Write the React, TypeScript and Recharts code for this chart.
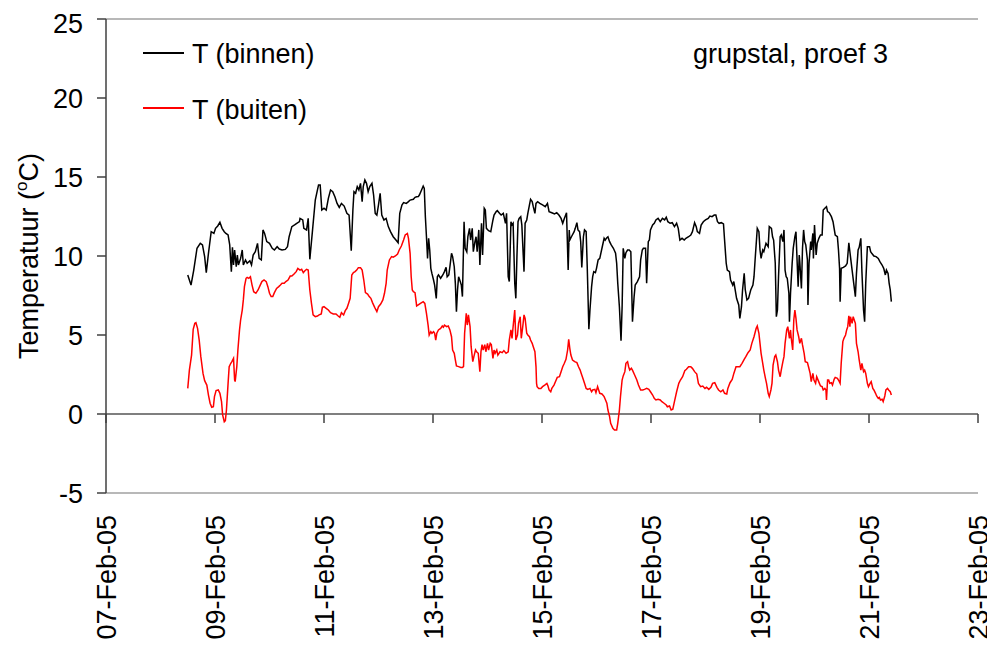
import React from 'react';
import { LineChart, Line, XAxis, YAxis, ReferenceLine } from 'recharts';

// time in days after 07-Feb-05 00:00, temperature in °C
const binnen: [number, number][] = [
  [1.50,8.80],[1.56,8.16],[1.61,9.11],[1.67,10.49],[1.73,10.80],[1.77,10.70],[1.81,9.96],[1.84,8.95],[1.88,10.17],[1.93,11.54],[1.98,11.43],[2.01,11.75],[2.05,11.90],[2.09,12.13],[2.13,11.75],[2.17,11.54],[2.20,11.43],[2.24,11.33],[2.27,10.70],[2.30,9.00],[2.32,10.55],[2.34,9.43],[2.36,10.38],[2.39,9.32],[2.41,10.06],[2.43,9.43],[2.47,9.85],[2.50,10.38],[2.52,9.43],[2.56,9.75],[2.59,9.54],[2.64,9.70],[2.67,9.43],[2.70,10.06],[2.74,10.27],[2.78,10.80],[2.81,9.85],[2.85,9.75],[2.88,11.65],[2.91,11.43],[2.95,10.91],[3.00,10.80],[3.05,10.49],[3.09,10.38],[3.14,10.59],[3.18,10.44],[3.23,10.38],[3.29,10.42],[3.33,10.59],[3.36,11.22],[3.41,11.86],[3.46,11.97],[3.50,12.07],[3.55,12.18],
  [3.56,12.38],[3.61,12.28],[3.63,11.75],[3.68,11.65],[3.71,12.38],[3.74,9.79],[3.79,11.65],[3.84,13.54],[3.88,14.18],[3.90,14.49],[3.93,14.49],[3.96,12.91],[4.00,13.02],[4.04,12.91],[4.08,13.65],[4.12,14.18],[4.16,14.07],[4.20,13.75],[4.24,13.33],[4.28,13.08],[4.32,13.33],[4.37,13.16],[4.42,12.70],[4.46,12.59],[4.50,10.34],[4.53,12.91],[4.55,14.07],[4.58,13.97],[4.61,14.39],[4.64,14.18],[4.67,14.60],[4.70,13.44],[4.72,14.39],[4.75,14.81],[4.78,14.60],[4.81,14.07],[4.84,14.39],[4.88,14.60],[4.91,13.86],[4.94,12.70],[4.97,12.59],[5.00,13.23],[5.03,13.97],[5.06,12.59],[5.10,12.28],[5.14,12.38],[5.18,11.86],[5.22,11.54],[5.27,11.22],[5.32,11.01],[5.36,10.84],[5.39,12.70],[5.43,13.23],[5.46,13.38],[5.51,13.33],[5.55,13.44],[5.58,13.54],[5.64,13.59],[5.67,13.71],[5.70,13.75],
  [5.73,13.76],[5.75,13.86],[5.79,14.18],[5.82,14.43],[5.84,14.28],[5.86,12.49],[5.88,11.22],[5.90,9.85],[5.92,11.12],[5.94,10.38],[5.96,9.22],[5.98,8.90],[6.01,8.48],[6.03,8.16],[6.06,7.32],[6.08,8.69],[6.10,8.80],[6.14,8.59],[6.18,8.80],[6.21,9.01],[6.24,9.28],[6.26,8.69],[6.29,8.80],[6.31,9.32],[6.34,10.17],[6.36,9.96],[6.39,9.32],[6.41,8.27],[6.43,6.48],[6.45,7.85],[6.47,8.69],[6.50,8.38],[6.52,8.16],[6.54,7.43],[6.57,12.17],[6.59,10.49],[6.62,10.27],[6.64,11.22],[6.67,11.75],[6.69,11.01],[6.72,11.75],[6.74,10.27],[6.77,10.91],[6.79,11.22],[6.81,10.27],[6.84,11.65],[6.86,9.43],[6.89,12.07],[6.91,10.06],[6.94,13.02],[6.96,12.91],[6.98,11.75],[7.02,11.60],[7.06,11.54],[7.10,12.28],[7.12,12.59],[7.16,12.81],[7.18,12.87],[7.22,12.70],[7.25,12.59],[7.29,12.70],[7.33,12.07],[7.35,12.70],[7.38,8.69],[7.40,8.38],[7.43,12.17],[7.45,11.97],[7.47,12.07],[7.50,8.27],[7.52,7.32],[7.54,9.96],[7.56,12.17],[7.58,12.38],[7.61,12.49],[7.63,11.97],[7.67,9.01],[7.69,12.07],[7.72,12.28],[7.74,12.70],[7.77,13.23],[7.79,13.59],[7.82,13.44],[7.84,13.12],[7.87,12.70],
  [7.89,13.33],[7.92,13.44],[7.96,13.33],[8.01,13.23],[8.06,13.12],[8.10,13.33],[8.13,12.81],[8.18,12.74],[8.23,12.66],[8.27,12.74],[8.31,12.59],[8.35,12.38],[8.38,12.07],[8.41,12.38],[8.45,12.74],[8.48,9.11],[8.50,11.65],[8.51,11.01],[8.54,11.22],[8.59,11.54],[8.61,11.75],[8.64,12.11],[8.66,11.65],[8.69,11.54],[8.71,10.91],[8.73,9.28],[8.76,11.22],[8.78,11.65],[8.81,11.54],[8.83,9.32],[8.86,5.36],[8.88,6.58],[8.91,8.06],[8.93,8.69],[8.95,9.01],[8.98,8.95],[9.00,9.22],[9.03,9.75],[9.06,9.85],[9.10,10.49],[9.14,11.12],[9.16,11.01],[9.19,11.16],[9.21,11.22],[9.24,10.91],[9.27,10.70],[9.31,10.49],[9.35,10.17],[9.37,9.54],[9.39,8.27],[9.42,6.79],[9.45,4.64],[9.47,6.79],[9.49,10.49],[9.52,9.85],[9.54,10.21],[9.57,10.38],[9.60,10.38],[9.63,10.27],[9.66,5.84],[9.69,7.43],[9.71,8.16],[9.75,8.38],[9.79,8.69],[9.81,9.75],[9.84,10.38],[9.86,10.49],[9.90,10.49],[9.92,8.27],[9.95,10.91],[9.97,11.01],[9.99,11.65],[10.03,11.96],
  [10.06,12.07],[10.09,12.28],[10.13,12.38],[10.17,12.17],[10.21,12.38],[10.25,12.28],[10.28,12.45],[10.31,12.17],[10.35,12.07],[10.39,12.11],[10.43,11.86],[10.47,12.07],[10.50,11.75],[10.53,11.01],[10.57,11.12],[10.61,11.01],[10.64,11.12],[10.69,11.22],[10.73,11.33],[10.76,11.54],[10.80,12.11],[10.83,11.86],[10.85,11.54],[10.89,11.43],[10.92,11.96],[10.96,12.17],[11.00,12.28],[11.05,12.38],[11.08,12.53],[11.12,12.49],[11.16,12.59],[11.19,12.59],[11.22,12.17],[11.25,12.07],[11.29,12.11],[11.33,12.03],[11.35,11.01],[11.38,9.54],[11.40,9.11],[11.44,9.01],[11.46,8.48],[11.50,8.16],[11.52,8.38],[11.55,7.74],[11.57,7.32],[11.61,6.90],[11.63,6.05],[11.66,6.79],[11.68,7.85],[11.71,8.90],[11.73,7.85],[11.76,7.22],[11.79,7.32],[11.83,7.85],[11.87,8.16],[11.89,8.69],[11.91,9.75],[11.95,11.75],[11.98,11.54],[12.00,10.38],[12.02,9.85],[12.05,10.38],[12.07,10.27],[12.11,10.80],[12.15,10.59],[12.17,11.86],[12.21,11.75],[12.23,11.22],
  [12.25,11.01],[12.28,9.54],[12.30,6.16],[12.32,6.58],[12.34,8.69],[12.37,11.22],[12.39,11.33],[12.42,10.91],[12.44,11.65],[12.46,9.11],[12.48,8.69],[12.50,8.59],[12.53,7.64],[12.54,5.84],[12.56,7.64],[12.59,9.54],[12.61,10.49],[12.64,11.22],[12.66,11.54],[12.68,9.75],[12.70,8.06],[12.72,10.06],[12.73,9.64],[12.76,7.95],[12.78,10.49],[12.80,11.65],[12.82,10.91],[12.84,10.70],[12.87,9.75],[12.88,6.90],[12.90,9.54],[12.93,10.91],[12.94,10.38],[12.97,11.43],[12.98,9.85],[13.00,11.96],[13.03,10.06],[13.05,10.80],[13.08,11.12],[13.11,11.33],[13.14,11.33],[13.16,12.91],[13.19,13.02],[13.22,13.12],[13.24,12.81],[13.27,12.74],[13.31,12.49],[13.34,12.17],[13.36,11.75],[13.38,11.33],[13.42,11.22],[13.44,10.38],[13.46,9.22],[13.47,7.11],[13.49,9.22],[13.53,9.28],[13.57,9.37],[13.60,9.54],[13.63,10.84],[13.66,9.96],[13.69,9.11],[13.72,8.27],[13.75,7.43],[13.77,8.90],[13.80,10.38],[13.82,10.55],[13.85,11.12],[13.87,9.01],[13.90,6.58],[13.92,5.84],[13.94,8.27],[13.97,10.59],[14.01,10.59],[14.03,10.27],[14.05,10.17],[14.09,10.00],[14.13,9.96],[14.17,9.85],[14.20,9.64],[14.24,9.43],[14.27,9.22],[14.30,8.80],[14.32,9.11],[14.35,8.90],[14.37,8.27],[14.39,7.85],[14.41,7.11],
];

const buiten: [number, number][] = [
  [1.50,1.62],[1.53,2.78],[1.57,3.73],[1.60,5.36],[1.63,5.74],[1.65,5.78],[1.68,5.42],[1.71,4.68],[1.74,3.63],[1.78,2.57],[1.81,2.11],[1.85,1.83],[1.88,1.20],[1.91,0.68],[1.94,0.42],[1.97,0.46],[1.99,1.10],[2.02,1.48],[2.06,1.52],[2.09,1.31],[2.12,0.78],[2.14,-0.06],[2.17,-0.49],[2.19,-0.42],[2.21,0.25],[2.24,1.94],[2.26,2.99],[2.29,3.21],[2.31,3.31],[2.34,3.52],[2.36,2.15],[2.37,2.05],[2.40,3.00],[2.42,4.05],[2.45,5.32],[2.47,5.95],[2.50,6.58],[2.52,7.22],[2.54,8.06],[2.57,8.59],[2.59,8.65],[2.62,8.59],[2.65,8.69],[2.68,8.16],[2.71,7.74],[2.75,7.64],[2.79,7.85],[2.83,8.16],[2.86,8.38],[2.90,8.48],[2.94,8.38],[2.97,8.06],[3.00,7.64],[3.03,7.43],[3.06,7.43],[3.09,7.68],[3.13,7.95],[3.17,8.06],[3.20,8.16],[3.23,8.27],[3.27,8.27],[3.30,8.38],[3.34,8.48],[3.38,8.73],[3.41,8.73],[3.45,8.86],[3.49,9.01],[3.52,9.22],
  [3.56,9.11],[3.59,9.16],[3.62,8.95],[3.65,9.07],[3.68,9.16],[3.71,9.11],[3.74,7.85],[3.77,7.00],[3.80,6.27],[3.84,6.16],[3.88,6.20],[3.91,6.27],[3.95,6.33],[3.97,6.75],[4.00,6.79],[4.04,6.69],[4.08,6.58],[4.12,6.41],[4.17,6.33],[4.22,6.33],[4.26,6.20],[4.29,6.12],[4.32,6.41],[4.36,6.27],[4.39,6.54],[4.42,6.69],[4.45,7.00],[4.48,7.32],[4.51,8.80],[4.54,8.95],[4.57,9.01],[4.60,9.11],[4.63,9.26],[4.67,9.26],[4.70,9.11],[4.73,8.48],[4.76,7.68],[4.80,7.59],[4.83,7.43],[4.86,7.32],[4.89,7.05],[4.93,6.75],[4.97,6.48],[5.00,6.79],[5.04,6.96],[5.08,7.22],[5.11,7.64],[5.14,8.27],[5.16,9.11],[5.20,9.75],[5.24,9.96],[5.27,9.92],[5.31,10.00],[5.35,10.13],[5.38,10.38],[5.42,10.63],[5.46,11.01],[5.49,11.33],[5.53,11.43],[5.55,11.12],[5.58,10.17],[5.60,8.69],[5.62,7.85],[5.64,7.74],[5.67,7.68],[5.70,6.84],
  [5.73,6.90],[5.77,7.00],[5.82,7.11],[5.85,7.00],[5.88,6.37],[5.91,5.63],[5.93,5.00],[5.96,5.21],[5.98,5.11],[6.01,5.21],[6.03,5.11],[6.05,4.68],[6.07,5.11],[6.10,5.32],[6.14,5.42],[6.17,5.57],[6.19,5.49],[6.21,5.63],[6.25,5.53],[6.28,5.57],[6.31,5.32],[6.34,4.89],[6.36,4.05],[6.39,3.84],[6.41,3.42],[6.43,3.04],[6.47,3.00],[6.51,2.95],[6.54,2.95],[6.56,3.00],[6.58,5.11],[6.61,6.37],[6.63,5.63],[6.65,6.27],[6.68,5.53],[6.70,4.26],[6.73,3.31],[6.75,3.63],[6.78,4.05],[6.80,3.94],[6.83,3.84],[6.86,2.68],[6.88,3.94],[6.90,4.39],[6.92,4.05],[6.95,4.39],[6.97,3.94],[7.00,4.47],[7.02,4.05],[7.05,4.47],[7.07,4.39],[7.10,3.52],[7.12,4.05],[7.14,3.84],[7.17,4.05],[7.19,3.73],[7.23,3.94],[7.27,3.88],[7.30,4.01],[7.34,3.84],[7.38,3.94],[7.40,4.68],[7.43,5.32],[7.45,4.79],[7.47,5.53],[7.50,6.58],[7.52,4.68],[7.55,5.00],[7.57,5.74],[7.60,6.16],[7.62,4.79],[7.65,5.63],[7.67,6.27],[7.69,6.05],[7.72,5.11],[7.74,5.00],[7.77,4.89],[7.79,4.68],[7.82,4.47],[7.84,4.26],[7.87,3.94],[7.89,3.00],[7.90,1.94],
  [7.91,1.73],[7.94,1.62],[7.98,1.62],[8.01,1.73],[8.05,1.83],[8.09,1.94],[8.11,1.77],[8.13,1.52],[8.16,1.41],[8.18,1.62],[8.22,1.83],[8.26,2.15],[8.28,2.32],[8.32,2.36],[8.35,2.68],[8.38,2.99],[8.41,3.21],[8.44,3.46],[8.47,4.05],[8.49,4.72],[8.51,4.16],[8.53,3.73],[8.56,3.42],[8.60,3.31],[8.64,3.25],[8.67,2.99],[8.70,2.78],[8.72,2.57],[8.75,2.26],[8.78,1.94],[8.81,1.62],[8.84,1.56],[8.88,1.62],[8.91,1.41],[8.93,1.52],[8.97,1.56],[8.99,1.35],[9.02,1.73],[9.04,1.52],[9.06,1.31],[9.10,1.27],[9.14,1.10],[9.16,0.93],[9.19,0.68],[9.21,0.25],[9.24,-0.17],[9.26,-0.59],[9.30,-0.91],[9.33,-1.01],[9.37,-1.01],[9.39,-0.59],[9.42,0.25],[9.44,1.10],[9.47,2.15],[9.49,2.41],[9.52,2.68],[9.54,3.21],[9.57,3.31],[9.59,2.99],[9.61,2.78],[9.64,2.89],[9.66,2.78],[9.70,2.47],[9.74,2.15],[9.77,1.83],[9.81,1.52],[9.85,1.52],[9.88,1.56],[9.92,1.62],[9.96,1.56],[9.99,1.41],[10.03,1.20],
  [10.06,0.99],[10.09,0.89],[10.13,0.93],[10.17,0.89],[10.20,0.78],[10.24,0.68],[10.28,0.57],[10.30,0.46],[10.34,0.51],[10.37,0.25],[10.40,0.30],[10.43,0.78],[10.47,1.41],[10.51,1.94],[10.54,2.15],[10.58,2.36],[10.62,2.74],[10.65,2.83],[10.69,2.99],[10.73,2.99],[10.76,2.89],[10.80,2.68],[10.84,2.53],[10.87,1.94],[10.91,1.73],[10.95,1.77],[10.99,1.62],[11.02,1.69],[11.06,1.56],[11.10,1.69],[11.13,1.94],[11.17,1.98],[11.21,1.69],[11.24,1.52],[11.28,1.41],[11.32,1.52],[11.35,1.31],[11.39,1.27],[11.41,1.62],[11.45,1.98],[11.49,2.19],[11.52,2.57],[11.56,2.99],[11.60,2.99],[11.63,2.99],[11.67,3.21],[11.71,3.46],[11.74,3.63],[11.78,3.88],[11.82,4.05],[11.85,4.47],[11.89,4.89],[11.93,5.42],[11.95,5.57],[11.98,5.11],[12.00,4.47],[12.02,3.84],[12.05,3.21],[12.07,2.78],[12.10,2.26],[12.12,1.94],[12.15,1.31],[12.17,1.10],[12.20,1.52],[12.22,1.94],
  [12.24,3.10],[12.27,3.63],[12.29,3.73],[12.32,3.31],[12.34,2.78],[12.37,2.36],[12.39,2.78],[12.42,3.31],[12.44,3.63],[12.46,4.47],[12.49,5.32],[12.51,5.53],[12.54,4.79],[12.56,5.32],[12.57,4.89],[12.60,4.05],[12.62,5.95],[12.64,6.58],[12.66,6.05],[12.68,5.32],[12.71,4.89],[12.73,4.47],[12.76,4.79],[12.78,4.37],[12.81,3.84],[12.83,3.31],[12.87,3.25],[12.89,2.99],[12.92,2.57],[12.94,2.05],[12.97,2.57],[12.99,2.15],[13.02,1.94],[13.04,2.36],[13.06,2.19],[13.09,1.94],[13.11,1.77],[13.14,1.73],[13.16,1.52],[13.19,1.62],[13.21,1.52],[13.22,0.89],[13.24,2.15],[13.26,2.15],[13.28,1.94],[13.31,1.98],[13.33,1.83],[13.36,2.19],[13.38,2.32],[13.42,2.26],[13.44,2.15],[13.47,1.94],[13.49,3.21],[13.52,4.58],[13.54,4.79],[13.57,5.00],[13.59,5.32],[13.61,5.53],[13.63,6.22],[13.65,5.53],[13.66,6.16],[13.69,5.74],[13.71,6.16],[13.72,6.05],[13.75,5.74],[13.77,4.47],[13.80,3.94],[13.82,3.42],[13.85,2.78],[13.87,3.21],[13.90,2.68],[13.92,2.78],[13.94,2.57],[13.97,1.94],[13.99,1.73],[14.02,1.94],[14.04,2.05],[14.07,1.62],[14.09,1.52],[14.12,1.31],[14.14,1.14],[14.17,0.99],[14.19,1.05],[14.21,0.89],[14.24,0.93],[14.26,0.78],[14.29,1.14],[14.31,1.52],[14.34,1.62],[14.36,1.52],[14.39,1.41],[14.41,1.20],
];

const xTicks = [0, 2, 4, 6, 8, 10, 12, 14, 16];
const yTicks = [-5, 0, 5, 10, 15, 20, 25];
const seriesNames = ['T (binnen)', 'T (buiten)'];
const annotation = 'grupstal, proef 3';

const FONT = '"Liberation Sans", Arial, sans-serif';
const FS = 27;

const binnenData = binnen.map(([d, v]) => ({ d, v }));
const buitenData = buiten.map(([d, v]) => ({ d, v }));

const fmtDate = (v: number) => `${String(7 + v).padStart(2, '0')}-Feb-05`;

const DateTick = (props: any) => {
  const { x, y, payload } = props;
  return (
    <text
      x={x}
      y={y}
      transform={`rotate(-90 ${x} ${y})`}
      textAnchor="end"
      dy="0.36em"
      fontFamily={FONT}
      fontSize={FS}
      fill="#000"
    >
      {fmtDate(payload.value)}
    </text>
  );
};

const YTitle = () => (
  <text
    x={30}
    y={248}
    transform="rotate(-90 30 248)"
    textAnchor="middle"
    fontFamily={FONT}
    fontSize={FS}
    fill="#000"
  >
    Temperatuur (<tspan dy={-11} fontSize={17}>o</tspan>
    <tspan dy={11}>C)</tspan>
  </text>
);

export default function App() {
  return (
    <div style={{ position: 'relative', width: 979, height: 642, fontFamily: FONT }}>
      <LineChart
        width={979}
        height={642}
        margin={{ top: 11, right: 9, left: 0, bottom: 0 }}
      >
        <XAxis
          type="number"
          dataKey="d"
          domain={[0, 16]}
          ticks={xTicks}
          allowDataOverflow
          axisLine={false}
          tickLine={false}
          tickSize={0}
          tickMargin={22}
          height={157}
          tick={<DateTick />}
        />
        <YAxis
          type="number"
          domain={[-5, 25]}
          ticks={yTicks}
          width={98}
          axisLine={{ stroke: '#404040', strokeWidth: 1.5 }}
          tickLine={{ stroke: '#404040', strokeWidth: 1.5 }}
          tickSize={9}
          tickMargin={14}
          tick={{ fontFamily: FONT, fontSize: FS, fill: '#000' }}
          label={<YTitle />}
        />
        <ReferenceLine y={25} stroke="#a0a0a0" strokeWidth={1.5} />
        <ReferenceLine y={-5} stroke="#a0a0a0" strokeWidth={1.5} />
        <ReferenceLine y={0} stroke="#000" strokeWidth={1.2} />
        {xTicks.map((t) => (
          <ReferenceLine
            key={t}
            segment={[{ x: t, y: 0 }, { x: t, y: -0.57 }]}
            stroke="#404040"
            strokeWidth={1.5}
          />
        ))}
        <Line
          data={binnenData}
          dataKey="v"
          type="linear"
          stroke="#000000"
          strokeWidth={1.5}
          dot={false}
          isAnimationActive={false}
          name={seriesNames[0]}
        />
        <Line
          data={buitenData}
          dataKey="v"
          type="linear"
          stroke="#ff0000"
          strokeWidth={1.5}
          dot={false}
          isAnimationActive={false}
          name={seriesNames[1]}
        />
      </LineChart>
      {/* legend */}
      <div style={{ position: 'absolute', left: 135, top: 44, width: 41, height: 1.5, background: '#000' }} />
      <div style={{ position: 'absolute', left: 184, top: 31, fontSize: FS, lineHeight: '30px', whiteSpace: 'nowrap', color: '#000' }}>
        {seriesNames[0]}
      </div>
      <div style={{ position: 'absolute', left: 135, top: 99, width: 41, height: 1.5, background: '#ff0000' }} />
      <div style={{ position: 'absolute', left: 184, top: 87, fontSize: FS, lineHeight: '30px', whiteSpace: 'nowrap', color: '#000' }}>
        {seriesNames[1]}
      </div>
      <div style={{ position: 'absolute', left: 685, top: 31, fontSize: FS, lineHeight: '30px', whiteSpace: 'nowrap', color: '#000' }}>
        {annotation}
      </div>
    </div>
  );
}
